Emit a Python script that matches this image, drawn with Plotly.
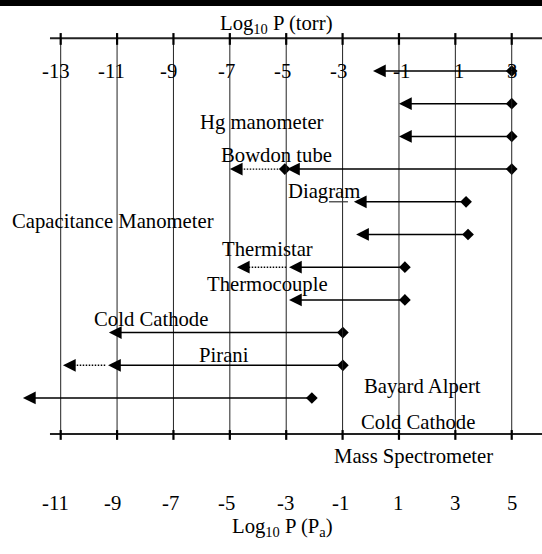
import plotly.graph_objects as go

# ---------------- data ----------------
pa_ticks = [-11, -9, -7, -5, -3, -1, 1, 3, 5]
torr_tick_labels = ["-13", "-11", "-9", "-7", "-5", "-3", "-1", "1", "3"]
pa_tick_labels = ["-11", "-9", "-7", "-5", "-3", "-1", "1", "3", "5"]

rows = [1, 2, 3, 4, 5, 6, 7, 8, 9, 10, 11]
range_high = [5, 5, 5, 5, 3.38, 3.45, 1.21, 1.21, -0.99, -0.99, -2.09]
range_low = [0.08, 1, 1, -2.97, -0.6, -0.52, -2.9, -2.9, -9.29, -9.32, -12.34]
extended_low = [None, None, None, -5.0, None, None, -4.75, None, None, -10.92, None]
extra_diamond = [None, None, None, -3.05, None, None, None, None, None, None, None]
stray_dash = [-1.48, -0.81]  # short stroke on row 5

gauge_names = ["Hg manometer", "Bowdon tube", "Diagram", "Capacitance Manometer",
               "Thermistar", "Thermocouple", "Cold Cathode", "Pirani",
               "Bayard Alpert", "Cold Cathode", "Mass Spectrometer"]

top_title = "Log<sub>10</sub> P (torr)"
bottom_title = "Log<sub>10</sub> P (P<sub>a</sub>)"

# ---------------- layout / styling ----------------
FONT = dict(family="Liberation Serif, Times New Roman, serif", size=20.7, color="black")
label_x = [-3.86, -3.36, -1.66, -9.16, -3.68, -3.68, -7.81, -5.22, 1.83, 1.68, 1.5]
label_y = [2.59, 3.57, 4.67, 5.59, 6.44, 7.54, 8.58, 9.69, 10.66, 11.73, 12.80]
torr_shift = [-5, -6, -5, -3, -3.5, -4, 2.5, 4, 0]
pa_shift = [-5, -4.5, -2.5, -3, -1, -2, -1, 0, 0]
AXIS_TOP_Y, AXIS_BOT_Y = 0.0, 12.1
TORR_LABEL_Y, PA_LABEL_Y = 1.0, 14.21
TOP_TITLE_Y, BOT_TITLE_Y = -0.41, 14.97
ARROW = dict(showarrow=True, arrowhead=2, arrowsize=1.7, arrowwidth=1.5,
             arrowcolor="black", standoff=0, startstandoff=0, text="")

fig = go.Figure()
shapes = []
annotations = []

# black band at top
shapes.append(dict(type="rect", xref="paper", yref="paper", x0=0, x1=1,
                   y0=1 - 6 / 554, y1=1, fillcolor="black", line=dict(width=0), layer="above"))

# axis lines
for yy in (AXIS_TOP_Y, AXIS_BOT_Y):
    shapes.append(dict(type="line", xref="x", yref="y", x0=-11.38, x1=6.2, y0=yy, y1=yy,
                       line=dict(color="#222", width=2)))
# grid lines and ticks
for v in pa_ticks:
    shapes.append(dict(type="line", xref="x", yref="y", x0=v, x1=v, y0=AXIS_TOP_Y, y1=AXIS_BOT_Y,
                       line=dict(color="#222", width=1)))
    shapes.append(dict(type="line", xref="x", yref="y", x0=v, x1=v, y0=AXIS_TOP_Y - 0.16,
                       y1=AXIS_TOP_Y + 0.2, line=dict(color="black", width=2.2)))
    shapes.append(dict(type="line", xref="x", yref="y", x0=v, x1=v, y0=AXIS_BOT_Y - 0.12,
                       y1=AXIS_BOT_Y + 0.18, line=dict(color="black", width=2.2)))

# stray dash on row 5
shapes.append(dict(type="line", xref="x", yref="y", x0=stray_dash[0], x1=stray_dash[1],
                   y0=rows[4], y1=rows[4], line=dict(color="#333", width=1.2)))

# solid arrows
for r, hi, lo in zip(rows, range_high, range_low):
    annotations.append(dict(x=lo, y=r, ax=hi, ay=r, xref="x", yref="y", axref="x", ayref="y",
                            **ARROW))

# dotted extensions
for r, lo, ext in zip(rows, range_low, extended_low):
    if ext is None:
        continue
    fig.add_trace(go.Scatter(x=[lo - 0.1, ext + 0.3], y=[r, r], mode="lines",
                             line=dict(color="black", width=1.4, dash="1.5px,1.5px"),
                             hoverinfo="skip", showlegend=False))
    annotations.append(dict(x=ext, y=r, ax=ext + 0.42, ay=r, xref="x", yref="y", axref="x",
                            ayref="y", **ARROW))

# diamonds
dx = list(range_high) + [d for d in extra_diamond if d is not None]
dy = list(rows) + [r for r, d in zip(rows, extra_diamond) if d is not None]
fig.add_trace(go.Scatter(x=dx, y=dy, mode="markers",
                         marker=dict(symbol="diamond", size=9, color="black", line=dict(width=0)),
                         hoverinfo="skip", showlegend=False))

# tick labels
for v, t, s in zip(pa_ticks, torr_tick_labels, torr_shift):
    annotations.append(dict(x=v, y=TORR_LABEL_Y, text=t, showarrow=False, xshift=s,
                            xref="x", yref="y", font=FONT))
for v, t, s in zip(pa_ticks, pa_tick_labels, pa_shift):
    annotations.append(dict(x=v, y=PA_LABEL_Y, text=t, showarrow=False, xshift=s,
                            xref="x", yref="y", font=FONT))

# titles
annotations.append(dict(x=-3.33, y=TOP_TITLE_Y, text=top_title, showarrow=False,
                        xref="x", yref="y", font=FONT))
annotations.append(dict(x=-3.12, y=BOT_TITLE_Y, text=bottom_title, showarrow=False,
                        xref="x", yref="y", font=FONT))

# gauge names
for name, lx, ly in zip(gauge_names, label_x, label_y):
    annotations.append(dict(x=lx, y=ly, text=name, showarrow=False, xref="x", yref="y",
                            font=FONT))

fig.update_layout(
    width=542, height=554,
    margin=dict(l=0, r=0, t=0, b=0),
    paper_bgcolor="white", plot_bgcolor="white",
    showlegend=False,
    xaxis=dict(range=[-13.153, 6.074], visible=False, fixedrange=True),
    yaxis=dict(range=[15.771, -1.171], visible=False, fixedrange=True),
    shapes=shapes,
    annotations=annotations,
)

fig.write_html("out.html", config=dict(displayModeBar=False))
